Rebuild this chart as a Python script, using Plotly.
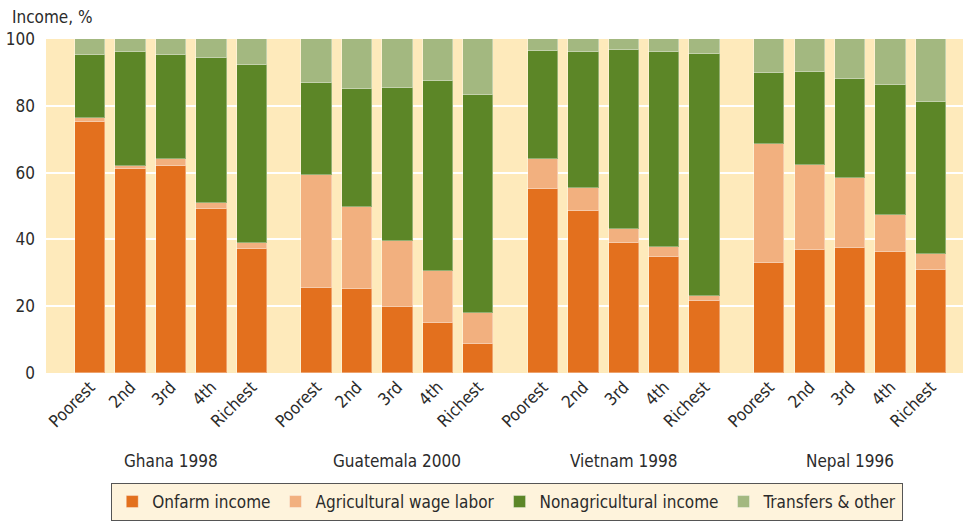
import plotly.graph_objects as go

countries = ["Ghana 1998", "Guatemala 2000", "Vietnam 1998", "Nepal 1996"]
quintiles = ["Poorest", "2nd", "3rd", "4th", "Richest"]

onfarm = [75.2, 61.1, 62.1, 49.0, 37.0,
          25.6, 25.3, 19.9, 14.9, 8.6,
          55.2, 48.4, 38.9, 34.7, 21.5,
          32.8, 36.7, 37.5, 36.2, 30.8]
agwage = [1.0, 1.0, 2.0, 1.9, 1.9,
          33.7, 24.3, 19.6, 15.5, 9.4,
          8.8, 7.0, 4.1, 3.0, 1.5,
          35.8, 25.5, 20.8, 11.1, 4.9]
nonag = [19.0, 34.1, 31.1, 43.3, 53.3,
         27.4, 35.5, 45.7, 56.9, 65.1,
         32.4, 40.6, 53.8, 58.4, 72.5,
         21.1, 27.8, 29.8, 39.0, 45.3]
transfers = [4.8, 3.8, 4.8, 5.8, 7.8,
             13.3, 14.9, 14.8, 12.7, 16.9,
             3.6, 4.0, 3.2, 3.9, 4.5,
             10.3, 10.0, 11.9, 13.7, 19.0]

series_names = ["Onfarm income", "Agricultural wage labor",
                "Nonagricultural income", "Transfers & other"]
series_values = [onfarm, agwage, nonag, transfers]
colors = ["#E3701E", "#F2B07F", "#5C8627", "#A3B880"]

STEP = 1.6  # distance from last bar of a group to first bar of next (in bar pitches)
xpos, xlabels = [], []
for g, c in enumerate(countries):
    for i, q in enumerate(quintiles):
        xpos.append(g * (len(quintiles) - 1 + STEP) + i)
        xlabels.append(q)

FONT = "Liberation Sans Narrow, DejaVu Sans Condensed, Arial Narrow, sans-serif"
TXT = "#2b2b2b"
FS = 17

fig = go.Figure()
for name, vals, col in zip(series_names, series_values, colors):
    fig.add_trace(go.Bar(
        x=xpos, y=vals, name=name, width=0.75,
        marker=dict(color=col, line=dict(color="rgba(255,255,255,0.35)", width=1)),
    ))

annotations = []
for g, c in enumerate(countries):
    center = g * (len(quintiles) - 1 + STEP) + (len(quintiles) - 1) / 2
    annotations.append(dict(x=center, xref="x", y=-0.263, yref="paper",
                            text=c, showarrow=False, yanchor="middle",
                            font=dict(size=FS, color=TXT, family=FONT)))
annotations.append(dict(x=-0.039, xref="paper", y=1.066, yref="paper",
                        text="Income, %", showarrow=False, xanchor="left",
                        yanchor="middle", font=dict(size=FS, color=TXT, family=FONT)))

fig.update_layout(
    barmode="stack",
    width=963, height=521,
    margin=dict(l=46, r=0, t=39, b=148),
    paper_bgcolor="white",
    plot_bgcolor="#FEEABB",
    font=dict(family=FONT, size=FS, color=TXT),
    annotations=annotations,
    showlegend=True,
    legend=dict(orientation="h", x=0.503, xanchor="center", y=-0.33, yanchor="top",
                bgcolor="#FEF3DC", bordercolor="#555555", borderwidth=1,
                font=dict(size=FS, color=TXT, family=FONT), traceorder="normal"),
    bargap=0,
)
fig.update_xaxes(
    range=[-1.09, 21.59], tickmode="array", tickvals=xpos, ticktext=xlabels,
    tickangle=-45, showgrid=False, zeroline=False, showline=False, ticks="",
    tickfont=dict(size=FS, color=TXT, family=FONT), automargin=False,
)
fig.update_yaxes(
    range=[0, 100], tickvals=[0, 20, 40, 60, 80, 100],
    showgrid=True, gridcolor="white", gridwidth=2, zeroline=False, showline=False,
    ticks="", ticklabelstandoff=10, tickfont=dict(size=FS, color=TXT, family=FONT),
    automargin=False,
)

fig.write_html("out.html", config={"displayModeBar": False},
               post_script="document.body.style.margin='0';")
